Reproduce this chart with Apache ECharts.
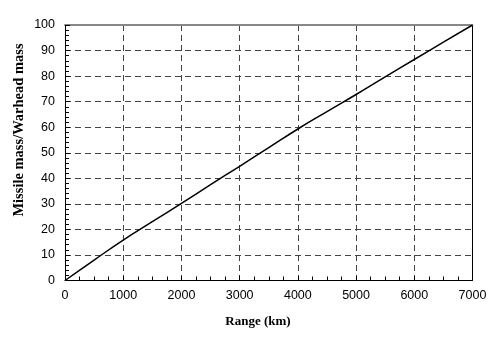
<!DOCTYPE html>
<html>
<head>
<meta charset="utf-8">
<script src="https://cdn.jsdelivr.net/npm/echarts@6/dist/echarts.min.js"></script>
<style>
  html, body { margin: 0; padding: 0; background: #fff; }
  #chart { width: 500px; height: 339px; }
</style>
</head>
<body>
<div id="chart"></div>
<script>
// range in km vs missile mass / warhead mass
const range = [0, 500, 1000, 1500, 2000, 2500, 3000, 3500, 4000, 4500, 5000, 5500, 6000, 6500, 7000];
const massRatio = [0, 8, 15.8, 23, 30.2, 37.5, 44.7, 52, 59.3, 66.1, 72.8, 79.7, 86.5, 93.3, 100];

const xTicks = { min: 0, max: 7000, interval: 1000 };
const yTicks = { min: 0, max: 100, interval: 10 };

const chart = echarts.init(document.getElementById("chart"), null, { renderer: "canvas" });

const gridLine = {
  show: true,
  lineStyle: { color: "#444", width: 1, type: [6, 4] }
};

const option = {
  animation: false,
  backgroundColor: "#fff",
  grid: { left: 65, right: 27.5, top: 25, bottom: 58.5 },
  xAxis: [
    {
      type: "value",
      min: xTicks.min,
      max: xTicks.max,
      interval: xTicks.interval,
      axisLine: { lineStyle: { color: "#000", width: 1 } },
      axisTick: { inside: true, length: 5, lineStyle: { color: "#000" } },
      minorTick: { show: true, splitNumber: 4, length: 4, lineStyle: { color: "#000" } },
      axisLabel: {
        color: "#000",
        fontFamily: "Liberation Sans",
        fontSize: 12.5,
        margin: 9,
        formatter: (v) => String(v)
      },
      splitLine: gridLine
    },
    {
      type: "value",
      position: "top",
      min: xTicks.min,
      max: xTicks.max,
      axisLine: { show: true, onZero: false, lineStyle: { color: "#888", width: 2 } },
      axisTick: { show: false },
      axisLabel: { show: false },
      splitLine: { show: false }
    }
  ],
  yAxis: [
    {
      type: "value",
      min: yTicks.min,
      max: yTicks.max,
      interval: yTicks.interval,
      axisLine: { show: true, lineStyle: { color: "#000", width: 1 } },
      axisTick: { inside: true, length: 5, lineStyle: { color: "#000" } },
      minorTick: { show: true, splitNumber: 5, length: 4, lineStyle: { color: "#000" } },
      axisLabel: {
        color: "#000",
        fontFamily: "Liberation Sans",
        fontSize: 12.5,
        margin: 10
      },
      splitLine: gridLine
    },
    {
      type: "value",
      position: "right",
      min: yTicks.min,
      max: yTicks.max,
      axisLine: { show: true, onZero: false, lineStyle: { color: "#000", width: 1 } },
      axisTick: { show: false },
      axisLabel: { show: false },
      splitLine: { show: false }
    }
  ],
  graphic: [
    {
      type: "text",
      x: 19,
      y: 130,
      rotation: Math.PI / 2,
      style: {
        text: "Missile mass/Warhead mass",
        font: "bold 14.5px 'Liberation Serif'",
        fill: "#000",
        align: "center",
        verticalAlign: "middle"
      }
    },
    {
      type: "text",
      x: 258,
      y: 322,
      style: {
        text: "Range (km)",
        font: "bold 13px 'Liberation Serif'",
        fill: "#000",
        align: "center",
        verticalAlign: "middle"
      }
    }
  ],
  series: [
    {
      type: "line",
      data: range.map((r, i) => [r, massRatio[i]]),
      smooth: true,
      symbol: "none",
      lineStyle: { color: "#000", width: 1.5 },
      z: 5
    }
  ]
};

chart.setOption(option);
</script>
</body>
</html>
